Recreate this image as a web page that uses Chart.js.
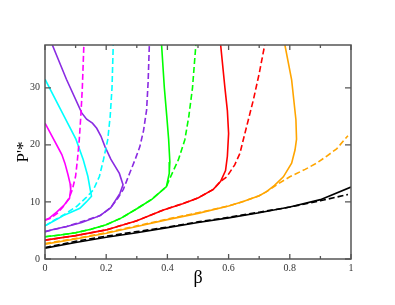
<!DOCTYPE html>
<html><head><meta charset="utf-8">
<script src="https://cdn.jsdelivr.net/npm/chart.js@4"></script>
<style>html,body{margin:0;padding:0;background:#fff}canvas{display:block}</style>
</head><body>
<canvas id="c" width="395" height="305"></canvas>
<script>
// ---- data (beta, P'*) ----
const magentaSolidB = [0, 0.047, 0.055, 0.065, 0.075, 0.082, 0.084, 0.08, 0.06, 0.038, 0.015, 0];
const magentaSolidP = [23.8, 19.1, 18.3, 16.8, 14.8, 13.2, 12.2, 10.6, 9.3, 8.2, 7.2, 6.8];
const magentaDashB = [0, 0.016, 0.04, 0.06, 0.078, 0.089, 0.1, 0.106, 0.112, 0.117, 0.122, 0.127];
const magentaDashP = [6.8, 7.1, 8.0, 9.2, 10.6, 12.1, 14.5, 17.4, 20.9, 25, 30, 37.5];

const cyanSolidB = [0, 0.05, 0.101, 0.125, 0.14, 0.147, 0.152, 0.135, 0.114, 0.085, 0.06, 0.03, 0];
const cyanSolidP = [31.5, 26.3, 21.0, 17.4, 14.5, 12.4, 11.0, 10.0, 8.9, 8.2, 7.6, 6.7, 5.8];
const cyanDashB = [0, 0.03, 0.06, 0.103, 0.135, 0.158, 0.178, 0.191, 0.205, 0.213, 0.219, 0.223];
const cyanDashP = [5.8, 6.8, 7.7, 9.2, 10.8, 12.1, 14.5, 17.4, 20.9, 25, 30, 37.5];

const purpleSolidB = [0.024, 0.07, 0.12, 0.136, 0.155, 0.169, 0.183, 0.196, 0.215, 0.243, 0.255, 0.245, 0.215, 0.18, 0.12, 0.071, 0.03, 0];
const purpleSolidP = [37.5, 31.5, 25.6, 24.5, 23.8, 22.9, 21.5, 19.7, 17.5, 15.0, 13.0, 11.5, 9.0, 7.6, 6.4, 5.7, 5.2, 4.8];
const purpleDashB = [0, 0.071, 0.18, 0.215, 0.24, 0.256, 0.275, 0.295, 0.31, 0.322, 0.332, 0.337, 0.341];
const purpleDashP = [4.8, 5.7, 7.6, 9.0, 10.8, 12.2, 14.8, 17.5, 19.7, 22.5, 26.1, 31, 37.5];

const greenSolidB = [0.381, 0.39, 0.398, 0.404, 0.408, 0.406, 0.397, 0.35, 0.3, 0.25, 0.2, 0.15, 0.1, 0.05, 0];
const greenSolidP = [37.5, 30, 25, 21, 17, 15, 12.7, 10.5, 8.8, 7.2, 6.0, 5.2, 4.6, 4.2, 3.9];
const greenDashB = [0, 0.05, 0.1, 0.15, 0.2, 0.25, 0.3, 0.35, 0.397, 0.406, 0.436, 0.457, 0.47, 0.482, 0.493];
const greenDashP = [3.9, 4.2, 4.6, 5.2, 6.0, 7.2, 8.8, 10.5, 12.7, 13.9, 17.4, 20.9, 25, 30, 37.5];

const redSolidB = [0, 0.1, 0.2, 0.3, 0.387, 0.45, 0.5, 0.55, 0.574, 0.59, 0.596, 0.6, 0.596, 0.588, 0.574];
const redSolidP = [3.3, 4.1, 5.1, 6.7, 8.6, 9.7, 10.7, 12.2, 13.6, 15.5, 18, 22, 26, 30, 37.5];
const redDashB = [0, 0.1, 0.2, 0.3, 0.387, 0.45, 0.5, 0.55, 0.574, 0.594, 0.62, 0.637, 0.648, 0.665, 0.681, 0.7, 0.718];
const redDashP = [3.3, 4.1, 5.1, 6.7, 8.6, 9.7, 10.7, 12.2, 13.6, 14.4, 16.5, 18.5, 20.9, 24.5, 27.9, 32.5, 37.5];

const orangeSolidB = [0, 0.1, 0.2, 0.3, 0.4, 0.5, 0.6, 0.65, 0.7, 0.724, 0.75, 0.779, 0.806, 0.817, 0.822, 0.82, 0.806, 0.784];
const orangeSolidP = [2.6, 3.5, 4.5, 5.7, 6.9, 8.0, 9.3, 10.1, 11.1, 11.8, 12.9, 14.4, 16.8, 19.1, 21, 24.4, 31.4, 37.5];
const orangeDashB = [0, 0.1, 0.2, 0.3, 0.4, 0.5, 0.6, 0.65, 0.7, 0.724, 0.76, 0.8, 0.85, 0.888, 0.92, 0.953, 0.99];
const orangeDashP = [2.7, 3.6, 4.6, 5.8, 7.0, 8.1, 9.3, 10.1, 11.1, 11.8, 13.1, 14.4, 15.7, 16.8, 18.0, 19.3, 21.6];

const blackSolidB = [0, 0.1, 0.2, 0.3, 0.4, 0.5, 0.6, 0.7, 0.8, 0.9, 1.0];
const blackSolidP = [1.9, 2.9, 3.8, 4.6, 5.5, 6.4, 7.2, 8.1, 9.1, 10.4, 12.6];
const blackDashB = [0, 0.1, 0.2, 0.3, 0.4, 0.5, 0.6, 0.7, 0.8, 0.9, 0.99];
const blackDashP = [2.0, 3.1, 4.0, 4.8, 5.6, 6.5, 7.3, 8.2, 9.1, 10.2, 11.3];

const xTickLabels = ['0', '0.2', '0.4', '0.6', '0.8', '1'];
const yTickLabels = ['0', '10', '20', '30'];

function pts(b, p) { return b.map((v, i) => ({x: v, y: p[i]})); }
function ds(b, p, color, dashed) {
  return {data: pts(b, p), borderColor: color, borderWidth: 1.6, borderDash: dashed ? [6, 3] : [],
          pointRadius: 0, showLine: true, tension: 0, fill: false};
}

const frameTicks = {
  id: 'frameTicks',
  afterDatasetsDraw(chart) {
    const {ctx, chartArea: a, scales: {x, y}} = chart;
    ctx.save();
    ctx.strokeStyle = '#555';
    ctx.lineWidth = 1.3;
    x.ticks.forEach(t => {
      const px = x.getPixelForValue(t.value);
      const major = Math.round(t.value * 10) % 2 === 0;
      const len = major ? 5 : 3;
      ctx.beginPath();
      ctx.moveTo(px, a.bottom); ctx.lineTo(px, a.bottom - len);
      ctx.moveTo(px, a.top); ctx.lineTo(px, a.top + len);
      ctx.stroke();
    });
    y.ticks.forEach(t => {
      if (Math.abs(t.value % 10) > 1e-6) return;
      const py = y.getPixelForValue(t.value);
      ctx.beginPath();
      ctx.moveTo(a.left, py); ctx.lineTo(a.left + 6, py);
      ctx.moveTo(a.right, py); ctx.lineTo(a.right - 6, py);
      ctx.stroke();
    });
    ctx.lineWidth = 1.5;
    ctx.strokeRect(a.left, a.top, a.right - a.left, a.bottom - a.top);
    ctx.restore();
  }
};

new Chart(document.getElementById('c'), {
  type: 'scatter',
  data: {datasets: [
    ds(magentaSolidB, magentaSolidP, '#ff00ff', false),
    ds(magentaDashB, magentaDashP, '#ff00ff', true),
    ds(cyanSolidB, cyanSolidP, '#00ffff', false),
    ds(cyanDashB, cyanDashP, '#00ffff', true),
    ds(purpleSolidB, purpleSolidP, '#8a2be2', false),
    ds(purpleDashB, purpleDashP, '#8a2be2', true),
    ds(greenSolidB, greenSolidP, '#00ff00', false),
    ds(greenDashB, greenDashP, '#00ff00', true),
    ds(redSolidB, redSolidP, '#ff0000', false),
    ds(redDashB, redDashP, '#ff0000', true),
    ds(orangeSolidB, orangeSolidP, '#ffa500', false),
    ds(orangeDashB, orangeDashP, '#ffa500', true),
    ds(blackSolidB, blackSolidP, '#000000', false),
    ds(blackDashB, blackDashP, '#000000', true)
  ]},
  options: {
    responsive: false, animation: false, devicePixelRatio: 1,
    layout: {padding: {left: 0, right: 44, top: 45, bottom: 0}},
    plugins: {legend: {display: false}, tooltip: {enabled: false}},
    scales: {
      x: {
        type: 'linear', min: 0, max: 1,
        grid: {display: false, drawTicks: false}, border: {display: false},
        ticks: {stepSize: 0.1, autoSkip: false, maxRotation: 0, padding: 3, color: '#333',
                font: {family: 'Liberation Serif', size: 10},
                callback: v => { const k = Math.round(v * 10); return k % 2 === 0 ? xTickLabels[k / 2] : ''; }},
        title: {display: true, text: 'β', color: '#000', font: {family: 'Liberation Serif', size: 18},
                padding: {top: 0, bottom: 16}},
        afterFit: s => { s.height = 46; }
      },
      y: {
        type: 'linear', min: 0, max: 37.5,
        grid: {display: false, drawTicks: false}, border: {display: false},
        ticks: {stepSize: 10, includeBounds: false, padding: 5, color: '#333',
                font: {family: 'Liberation Serif', size: 10},
                callback: v => { const k = Math.round(v / 10); return Math.abs(v - k * 10) < 1e-6 ? yTickLabels[k] : ''; }},
        title: {display: true, text: "P'*", color: '#000', font: {family: 'Liberation Serif', size: 17},
                padding: {top: 13, bottom: 0}},
        afterFit: s => { s.width = 45; }
      }
    }
  },
  plugins: [frameTicks]
});
</script>
</body></html>
